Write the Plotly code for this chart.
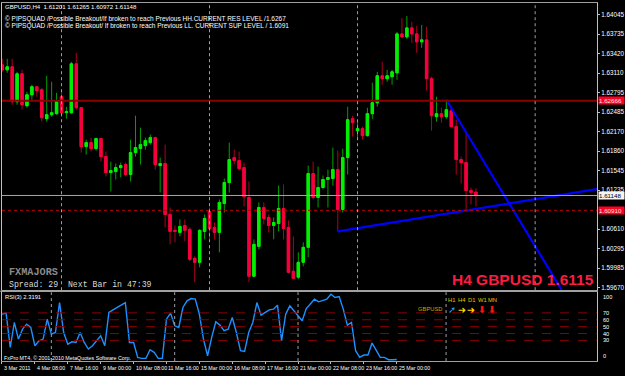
import plotly.graph_objects as go

# ---------------- data ----------------
time_labels = ["3 Mar 2011", "4 Mar 08:00", "7 Mar 16:00", "9 Mar 00:00", "10 Mar 08:00",
               "11 Mar 16:00", "15 Mar 00:00", "16 Mar 08:00", "17 Mar 16:00", "21 Mar 00:00",
               "22 Mar 08:00", "23 Mar 16:00", "25 Mar 00:00"]
label_bars = [0, 8, 16, 24, 32, 40, 48, 56, 64, 72, 80, 88, 96]

opens = [1.63241, 1.63161, 1.63209, 1.62650, 1.63097, 1.62586, 1.62762, 1.62890, 1.62842, 1.62378,
         1.62442, 1.62458, 1.62730, 1.62474, 1.62474, 1.63257, 1.62554, 1.61931, 1.61995, 1.61899,
         1.62059, 1.61771, 1.61515, 1.61531, 1.61595, 1.61643, 1.61483, 1.61835, 1.61899, 1.61947,
         1.61995, 1.62075, 1.61627, 1.61659, 1.60844, 1.60589, 1.60557, 1.60668, 1.60605, 1.60141,
         1.60077, 1.60573, 1.60892, 1.60636, 1.60557, 1.61020, 1.61356, 1.61755, 1.61707, 1.61595,
         1.61116, 1.59855, 1.60333, 1.60956, 1.60796, 1.60668, 1.60700, 1.60940, 1.60636, 1.59933,
         1.59839, 1.60077, 1.60317, 1.61499, 1.61116, 1.61276, 1.61404, 1.61420, 1.61563, 1.60924,
         1.61755, 1.62378, 1.62187, 1.62219, 1.62107, 1.62458, 1.62634, 1.63066, 1.63018, 1.63050,
         1.63113, 1.63737, 1.63689, 1.63833, 1.63737, 1.63609, 1.63641, 1.63018, 1.62410, 1.62458,
         1.62410, 1.62506, 1.62251, 1.61723, 1.61675, 1.61228, 1.61201]
highs = [1.63337, 1.63337, 1.63337, 1.63129, 1.63161, 1.62810, 1.62922, 1.62900, 1.62874, 1.63066,
         1.62970, 1.62794, 1.62842, 1.62570, 1.63289, 1.63433, 1.62570, 1.62043, 1.62075, 1.62075,
         1.62075, 1.61851, 1.61691, 1.61659, 1.61675, 1.61675, 1.62043, 1.62426, 1.62235, 1.62075,
         1.62123, 1.62091, 1.61755, 1.61963, 1.60956, 1.60668, 1.60764, 1.60764, 1.60636, 1.60173,
         1.60605, 1.60844, 1.60956, 1.60716, 1.61084, 1.61420, 1.61995, 1.61883, 1.61851, 1.61675,
         1.61372, 1.60445, 1.61036, 1.61036, 1.60844, 1.60796, 1.61308, 1.61324, 1.60748, 1.60493,
         1.60237, 1.60397, 1.61627, 1.61691, 1.61611, 1.61467, 1.61563, 1.61915, 1.61867, 1.61899,
         1.62570, 1.62426, 1.62330, 1.62251, 1.62554, 1.62954, 1.63129, 1.63289, 1.63161, 1.63161,
         1.63769, 1.63992, 1.64024, 1.63928, 1.63865, 1.63881, 1.63849, 1.63050, 1.62730, 1.62554,
         1.62682, 1.62570, 1.62362, 1.61771, 1.62155, 1.61276, 1.61265]
lows = [1.63129, 1.63113, 1.62602, 1.62602, 1.62522, 1.62554, 1.62682, 1.62730, 1.62330, 1.62330,
        1.62410, 1.62442, 1.62410, 1.62378, 1.62458, 1.62522, 1.61835, 1.61803, 1.61851, 1.61867,
        1.61691, 1.61451, 1.61212, 1.61404, 1.61436, 1.61451, 1.61372, 1.61771, 1.61643, 1.61883,
        1.61963, 1.61563, 1.61196, 1.60636, 1.60365, 1.60397, 1.60493, 1.60413, 1.60093, 1.59758,
        1.59997, 1.60445, 1.60445, 1.60445, 1.60237, 1.60876, 1.61196, 1.61643, 1.61547, 1.60972,
        1.59758, 1.59839, 1.60285, 1.60684, 1.60557, 1.60445, 1.60573, 1.60445, 1.59901, 1.59806,
        1.59806, 1.60013, 1.60157, 1.61084, 1.60956, 1.61244, 1.60956, 1.61308, 1.60573, 1.60876,
        1.61483, 1.62091, 1.62043, 1.62043, 1.62091, 1.62378, 1.62570, 1.62922, 1.62970, 1.62922,
        1.63002, 1.63673, 1.63657, 1.63593, 1.63433, 1.63513, 1.62826, 1.62187, 1.62330, 1.62314,
        1.62378, 1.62235, 1.61483, 1.61340, 1.60908, 1.61004, 1.60972]
closes = [1.63161, 1.63209, 1.62650, 1.63097, 1.62602, 1.62762, 1.62890, 1.62826, 1.62394, 1.62442,
          1.62474, 1.62666, 1.62474, 1.62490, 1.63257, 1.62554, 1.61931, 1.61995, 1.61899, 1.62059,
          1.61771, 1.61515, 1.61547, 1.61595, 1.61627, 1.61483, 1.61835, 1.61915, 1.61963, 1.62027,
          1.62075, 1.61643, 1.61659, 1.60844, 1.60573, 1.60573, 1.60652, 1.60589, 1.60125, 1.60077,
          1.60589, 1.60780, 1.60620, 1.60557, 1.61036, 1.61356, 1.61723, 1.61707, 1.61579, 1.61132,
          1.59855, 1.60365, 1.60956, 1.60780, 1.60668, 1.60716, 1.60940, 1.60620, 1.59917, 1.59822,
          1.60077, 1.60317, 1.61499, 1.61116, 1.61276, 1.61404, 1.61436, 1.61563, 1.60924, 1.61755,
          1.62362, 1.62314, 1.62219, 1.62107, 1.62458, 1.62634, 1.63066, 1.63018, 1.63066, 1.63129,
          1.63737, 1.63689, 1.63833, 1.63737, 1.63609, 1.63641, 1.63018, 1.62426, 1.62458, 1.62410,
          1.62522, 1.62251, 1.61723, 1.61675, 1.61228, 1.61196, 1.61148]

rsi = [68.1, 69.6, 19.8, 56.0, 31.9, 46.4, 53.6, 48.8, 22.2, 29.5,
       31.9, 60.9, 39.1, 41.5, 85.0, 41.5, 24.6, 28.0, 27.0, 41.5,
       27.0, 17.4, 22.2, 29.5, 36.7, 22.2, 70.5, 74.4, 77.8, 81.2,
       85.0, 27.0, 27.0, 5.3, 3.9, 3.9, 16.4, 12.6, 3.9, 3.9,
       60.9, 69.6, 51.2, 48.8, 77.8, 87.4, 90.8, 89.9, 68.1, 31.9,
       7.7, 34.3, 57.0, 52.2, 44.0, 46.4, 63.3, 41.5, 15.0, 14.0,
       41.5, 56.0, 85.0, 66.7, 70.5, 74.4, 75.4, 81.2, 29.5, 68.1,
       80.2, 72.9, 64.7, 58.5, 76.3, 82.6, 89.9, 86.0, 87.4, 89.9,
       97.1, 92.3, 93.7, 75.4, 52.2, 56.0, 15.0, 5.3, 8.7, 8.7,
       26.1, 15.0, 5.3, 5.3, 1.9, 1.9, 2.3191]
rsi_levels = [70, 60, 50, 40, 30]
rsi_axis_labels = [100, 70, 60, 50, 40, 30, 0]

price_ticks = [1.64045, 1.63735, 1.63420, 1.63110, 1.62795, 1.62485, 1.62170, 1.61860,
               1.61545, 1.61235, 1.60610, 1.60295, 1.59985, 1.59670]
res_level = 1.62666
sup_level = 1.60910
bid_level = 1.61148
separator_bars = [12, 42, 72, 108]

trend1_x = [68, 94]
trend1_y = [1.60573, 1.60908]
trend2_x = [90, 109.6]
trend2_y = [1.62682, 1.60125]

tf_labels = ["H1", "H4", "D1", "W1", "MN"]
tf_arrows = ["➚", "➜", "➜", "⬇", "⬇"]
tf_colors = ["#2aa0ff", "#ffd400", "#ffd400", "#ff1010", "#ff1010"]

# ---------------- figure ----------------
W, H = 625, 376
XL, XR = 2 / W, 599 / W
MAIN_Y = [1 - 291 / H, 1 - 3 / H]
RSI_Y = [1 - 362 / H, 1 - 293 / H]
N = len(closes)
bars = list(range(N))

SANS = "Liberation Sans, Arial, sans-serif"
MONO = "Liberation Mono, Courier New, monospace"

fig = go.Figure()

# wicks
fig.add_trace(go.Candlestick(
    x=bars, open=opens, high=highs, low=lows, close=closes,
    increasing=dict(line=dict(color="#00a000", width=1), fillcolor="#00a000"),
    decreasing=dict(line=dict(color="#b0001e", width=1), fillcolor="#b0001e"),
    whiskerwidth=0, xaxis="x", yaxis="y", hoverinfo="skip"))
# bodies
body_hi = [max(o, c) for o, c in zip(opens, closes)]
body_lo = [min(o, c) for o, c in zip(opens, closes)]
fig.add_trace(go.Candlestick(
    x=bars, open=opens, high=body_hi, low=body_lo, close=closes,
    increasing=dict(line=dict(color="#00f000", width=1), fillcolor="#00f000"),
    decreasing=dict(line=dict(color="#f5003d", width=1), fillcolor="#f5003d"),
    whiskerwidth=0, xaxis="x", yaxis="y"))

# trend lines (rays)
s1 = (trend1_y[1] - trend1_y[0]) / (trend1_x[1] - trend1_x[0])
fig.add_trace(go.Scatter(x=[trend1_x[0], 125], y=[trend1_y[0], trend1_y[0] + s1 * (125 - trend1_x[0])],
                         mode="lines", line=dict(color="#0000ff", width=2.2), xaxis="x", yaxis="y"))
s2 = (trend2_y[1] - trend2_y[0]) / (trend2_x[1] - trend2_x[0])
fig.add_trace(go.Scatter(x=[trend2_x[0], 125], y=[trend2_y[0], trend2_y[0] + s2 * (125 - trend2_x[0])],
                         mode="lines", line=dict(color="#0000ff", width=2.2), xaxis="x", yaxis="y"))

# RSI
fig.add_trace(go.Scatter(x=bars, y=rsi, mode="lines", line=dict(color="#1e90ff", width=1.4),
                         xaxis="x2", yaxis="y2"))

shapes = []
shapes.append(dict(type="line", xref="x domain", yref="y", x0=0, x1=1, y0=res_level, y1=res_level,
                   line=dict(color="#8c0000", width=2)))
shapes.append(dict(type="line", xref="x domain", yref="y", x0=0, x1=1, y0=bid_level, y1=bid_level,
                   line=dict(color="#a8a8a0", width=1)))
shapes.append(dict(type="line", xref="x domain", yref="y", x0=0, x1=1, y0=sup_level, y1=sup_level,
                   line=dict(color="#c00000", width=1, dash="dot")))
for lv in rsi_levels:
    shapes.append(dict(type="line", xref="x2 domain", yref="y2", x0=0, x1=1, y0=lv, y1=lv,
                       line=dict(color="#8c0000", width=1, dash="dash")))
for b in separator_bars:
    shapes.append(dict(type="line", xref="x", yref="y domain", x0=b, x1=b, y0=0, y1=1,
                       line=dict(color="#a0a0a0", width=1, dash="dot")))
    shapes.append(dict(type="line", xref="x2", yref="y2 domain", x0=b, x1=b, y0=0, y1=1,
                       line=dict(color="#a0a0a0", width=1, dash="dot")))
shapes.append(dict(type="line", xref="paper", yref="paper", x0=0, x1=XR, y0=1 - 292 / H, y1=1 - 292 / H,
                   line=dict(color="#a0a0a0", width=1)))

ann = []
def txt(x, y, s, size, color="#ffffff", fam=SANS, xanchor="left", yanchor="middle", **kw):
    d = dict(x=x, y=y, text=s, showarrow=False, xanchor=xanchor, yanchor=yanchor,
             font=dict(family=fam, size=size, color=color), borderpad=0)
    d.update(kw)
    d.setdefault("xref", "paper")
    d.setdefault("yref", "paper")
    ann.append(d)

txt(4 / W, 1 - 6.5 / H, "GBPUSD,H4  %.5f %.5f %.5f %.5f" % (opens[-1], highs[-1], lows[-1], closes[-1]), 6.1)
txt(4 / W, 1 - 19.5 / H, "© PIPSQUAD /Possible Breakout/If broken to reach Previous HH.CURRENT RES LEVEL /%.4f" % res_level, 6.5)
txt(4 / W, 1 - 26.5 / H, "© PIPSQUAD /Possible Breakout/ If broken to reach Previous LL. CURRENT SUP LEVEL / %.4f" % sup_level, 6.5)
txt(8 / W, 1 - 273 / H, "<b>FXMAJORS</b>", 10.2, color="#8a8a8a", fam=MONO)
txt(8 / W, 1 - 285 / H, "Spread: 29  Next Bar in 47:39", 8.2, color="#d8d8d8", fam=MONO)
txt(597 / W, 1 - 280 / H, "<b>H4 GBPUSD %.4f</b>" % 1.6115, 15.5, color="#ff1a40", xanchor="right")

def tag(level, bg, fg):
    ann.append(dict(x=600 / W, y=level, xref="paper", yref="y", text="%.5f" % level, showarrow=False,
                    xanchor="left", yanchor="middle", bgcolor=bg, width=25, height=7, align="left",
                    borderpad=0, font=dict(family=SANS, size=6.2, color=fg)))
tag(res_level, "#ff0022", "#ffe0e0")
tag(bid_level, "#f4f4f4", "#000000")
tag(sup_level, "#ff0022", "#ffe0e0")

txt(4 / W, 1 - 298 / H, "RSI(3) %.4f" % rsi[-1], 5.8)
txt(3 / W, 1 - 359 / H, "FxPro MT4, © 2001-2010 MetaQuotes Software Corp.", 5.3)
for v in rsi_axis_labels:
    ya = "top" if v == 100 else ("bottom" if v == 0 else "middle")
    ann.append(dict(x=603 / W, y=v, xref="paper", yref="y2", text=str(v), showarrow=False,
                    xanchor="left", yanchor=ya, font=dict(family=SANS, size=5.6, color="#ffffff")))
tf_x = [453, 463, 473, 484, 494]
for i, (lab, ar, col) in enumerate(zip(tf_labels, tf_arrows, tf_colors)):
    txt(tf_x[i] / W, 1 - 301 / H, lab, 5.8, color="#e8c000", xanchor="center")
    txt(tf_x[i] / W, 1 - 310 / H, "<b>%s</b>" % ar, 9.5, color=col, fam="DejaVu Sans", xanchor="center")
txt(444 / W, 1 - 310 / H, "GBPUSD", 5.8, color="#c8a800", xanchor="right")

for b, lab in zip(label_bars, time_labels):
    ann.append(dict(x=b, y=1 - 368.5 / H, xref="x2", yref="paper", text=lab, showarrow=False,
                    xanchor="left", yanchor="middle", font=dict(family=SANS, size=5.3, color="#ffffff")))

fig.update_layout(
    width=W, height=H, margin=dict(l=0, r=0, t=0, b=0), autosize=False,
    paper_bgcolor="#000000", plot_bgcolor="#000000", showlegend=False,
    shapes=shapes, annotations=ann,
    xaxis=dict(domain=[XL, XR], range=[-0.06, 120.55], anchor="y", showgrid=False, zeroline=False,
               showticklabels=False, ticks="", showline=True, linecolor="#a0a0a0", mirror=True,
               rangeslider=dict(visible=False), fixedrange=True),
    yaxis=dict(domain=MAIN_Y, range=[1.59630, 1.64232], anchor="x", side="right", showgrid=False,
               zeroline=False, tickvals=price_ticks, tickformat=".5f", ticks="outside", ticklen=2,
               tickcolor="#c0c0c0", showline=True, linecolor="#c0c0c0", mirror=True,
               tickfont=dict(family=SANS, size=6.3, color="#ffffff"), fixedrange=True),
    xaxis2=dict(domain=[XL, XR], range=[0, 144.73], anchor="y2", showgrid=False, zeroline=False,
                showticklabels=False, tickvals=label_bars, ticks="outside", ticklen=2, tickcolor="#c0c0c0",
                showline=True, linecolor="#a0a0a0", mirror=True, fixedrange=True),
    yaxis2=dict(domain=RSI_Y, range=[0, 100], anchor="x2", side="right", showgrid=False, zeroline=False,
                showticklabels=False, ticks="", showline=True, linecolor="#c0c0c0", mirror=True,
                fixedrange=True),
)

fig.write_html("out.html")
